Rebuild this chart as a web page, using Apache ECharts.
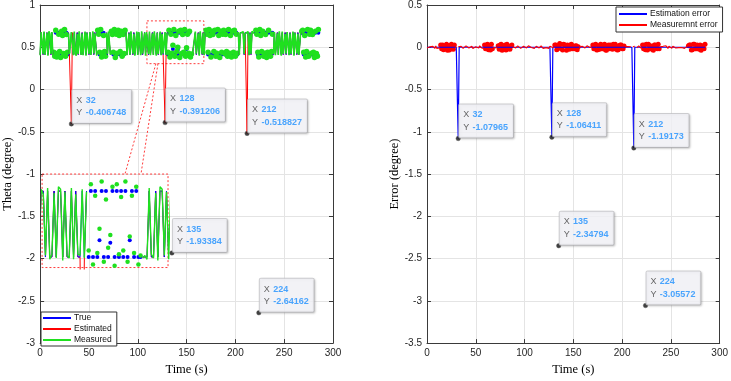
<!DOCTYPE html>
<html><head><meta charset="utf-8">
<script src="https://cdn.jsdelivr.net/npm/echarts@6/dist/echarts.min.js"></script>
<style>html,body{margin:0;padding:0;background:#fff}#c{width:731px;height:381px}</style>
</head><body><div id="c"></div>
<script>
// ---------------- data (sample index -> time in seconds) ----------------
const _ = null;          // no sample
const sampleStep = 1;    // seconds between samples
const xTicks = [0, 50, 100, 150, 200, 250, 300];

// continuous (line) parts of the signals
const trueVals = [
 .414,.673,.673,.414,.673,.414,.414,.673,.414,.673,
 .673,.414,.673,.414,_,_,_,_,_,_,
 _,_,_,_,_,_,_,_,_,.673,
 .414,.414,.673,.673,.414,.673,.414,.414,.673,.414,
 .673,.673,.414,.673,.414,.414,.673,.414,.673,.673,
 .414,.673,.414,.414,.673,.414,.673,.673,.414,_,
 _,_,_,_,_,_,_,_,.673,.414,
 .673,.673,.414,_,_,_,_,_,_,_,
 _,_,_,_,_,_,_,_,.673,.414,
 .414,.673,.414,.673,.673,.414,.673,.414,.414,.673,
 .414,.673,.673,.414,.673,.414,.414,.673,.414,.673,
 .673,.414,.673,.414,.414,.673,.414,.673,.673,.414,
 .673,.414,.414,.673,.414,.673,.414,.414,.673,.414,
 .673,_,_,_,_,_,_,_,_,_,
 _,_,_,_,_,_,_,_,_,_,
 _,_,_,_,_,_,.414,.414,.414,.673,
 .414,.414,.673,.414,.673,.673,.414,.673,.414,.673,
 _,_,_,_,_,_,_,_,_,_,
 _,_,_,_,_,_,_,_,_,_,
 _,_,_,_,_,_,_,_,_,_,
 _,_,_,.673,.414,.673,.673,.673,.673,.414,
 .673,.673,.673,.673,.414,.673,.414,.673,.673,.673,
 .673,_,_,_,_,_,_,_,_,_,
 _,_,_,_,_,_,_,_,_,.414,
 .673,.414,.414,.673,.414,.673,.673,.414,.673,.414,
 .414,.673,.414,.673,.673,.414,.673,.414,.414,.673,
 .414,.673,.673,.414,.673,.414,.414,.673,_,_,
 _,_,_,_,_,_,_,_,_,_,
 _,_,_,_,_,_
];

const estVals = [
 .414,.673,.673,.414,.673,.414,.414,.673,.414,.673,
 .673,.414,.673,.414,_,_,_,_,_,_,
 _,_,_,_,_,_,_,_,_,.673,
 .414,.414,-0.406748,.673,.414,.673,.414,.414,.673,.414,
 .673,.673,.414,.673,.414,.414,.673,.414,.673,.673,
 .414,.673,.414,.414,.673,.414,.673,.673,.414,_,
 _,_,_,_,_,_,_,_,.673,.414,
 .673,.673,.414,_,_,_,_,_,_,_,
 _,_,_,_,_,_,_,_,.673,.414,
 .414,.673,.414,.673,.673,.414,.673,.414,.414,.673,
 .414,.673,.673,.414,.673,.414,.414,.673,.414,.673,
 .673,.414,.673,.414,.414,.673,.414,.673,.673,.414,
 .673,.414,.414,.673,.414,.673,.414,.414,-0.391206,.414,
 .673,_,_,_,_,_,_,_,_,_,
 _,_,_,_,_,_,_,_,_,_,
 _,_,_,_,_,_,.414,.414,.414,.673,
 .414,.414,.673,.414,.673,.673,.414,.673,.414,.673,
 _,_,_,_,_,_,_,_,_,_,
 _,_,_,_,_,_,_,_,_,_,
 _,_,_,_,_,_,_,_,_,_,
 _,_,_,.673,.414,.673,.673,.673,.673,.414,
 .673,.673,-0.518827,.673,.414,.673,.414,.673,.673,.673,
 .673,_,_,_,_,_,_,_,_,_,
 _,_,_,_,_,_,_,_,_,.414,
 .673,.414,.414,.673,.414,.673,.673,.414,.673,.414,
 .414,.673,.414,.673,.673,.414,.673,.414,.414,.673,
 .414,.673,.673,.414,.673,.414,.414,.673,_,_,
 _,_,_,_,_,_,_,_,_,_,
 _,_,_,_,_,_
];

const measVals = [
 .405,.68,.665,.42,.685,.41,.425,.67,.40,.69,
 .66,.42,.68,.405,_,_,_,_,_,_,
 _,_,_,_,_,_,_,_,_,.665,
 .42,.41,.68,.67,.405,.685,.425,.40,.66,.42,
 .69,.68,.41,.665,.405,.425,.685,.40,.67,.66,
 .42,.68,.41,.405,.69,.425,.665,.68,.40,_,
 _,_,_,_,_,_,_,_,.67,.42,
 .685,.665,.41,_,_,_,_,_,_,_,
 _,_,_,_,_,_,_,_,.68,.405,
 .42,.665,.41,.69,.67,.425,.66,.40,.42,.685,
 .41,.68,.665,.405,.69,.425,.41,.67,.40,.68,
 .66,.42,.685,.405,.425,.665,.41,.69,.68,.40,
 .67,.42,.41,.685,.405,.66,.425,.42,.68,.41,
 .67,_,_,_,_,_,_,_,_,_,
 _,_,_,_,_,_,_,_,_,_,
 _,_,_,_,_,_,.41,.42,.405,.685,
 .425,.41,.665,.40,.69,.68,.42,.67,.405,.68,
 _,_,_,_,_,_,_,_,_,_,
 _,_,_,_,_,_,_,_,_,_,
 _,_,_,_,_,_,_,_,_,_,
 _,_,_,.68,.41,.665,.68,.67,.685,.42,
 .66,.68,.67,.685,.405,.665,.42,.69,.68,.665,
 .67,_,_,_,_,_,_,_,_,_,
 _,_,_,_,_,_,_,_,_,.42,
 .68,.405,.425,.665,.41,.69,.67,.40,.685,.42,
 .41,.66,.425,.68,.69,.405,.665,.42,.41,.685,
 .40,.67,.68,.425,.66,.41,.42,.69,_,_,
 _,_,_,_,_,_,_,_,_,_,
 _,_,_,_,_,_
];

// scattered (isolated) samples of the signals
const trueDots = [
 _,_,_,_,_,_,_,_,_,_,
 _,_,_,_,.414,.414,.673,.414,.414,.673,
 .414,.414,.673,.673,.414,.673,.414,.673,.414,_,
 _,_,_,_,_,_,_,_,_,_,
 _,_,_,_,_,_,_,_,_,_,
 _,_,_,_,_,_,_,_,_,.673,
 .673,.414,.673,.414,.414,.673,.414,.414,_,_,
 _,_,_,.673,.673,.414,.673,.414,.673,.414,
 .673,.673,.414,.673,.414,.673,.414,.673,_,_,
 _,_,_,_,_,_,_,_,_,_,
 _,_,_,_,_,_,_,_,_,_,
 _,_,_,_,_,_,_,_,_,_,
 _,_,_,_,_,_,_,_,_,_,
 _,.414,.673,.414,.673,.414,.48,.673,.414,.673,
 .414,.47,.673,.414,.673,.414,.673,.414,.673,.414,
 .48,.673,.414,.673,.414,.414,_,_,_,_,
 _,_,_,_,_,_,_,_,_,_,
 .673,.673,.414,.673,.673,.414,.673,.673,.414,.673,
 .414,.414,.673,.673,.414,.673,.414,.673,.673,.414,
 .673,.414,.414,.673,.414,.673,.414,.673,.414,.673,
 .414,.673,.414,_,_,_,_,_,_,_,
 _,_,_,_,_,_,_,_,_,_,
 _,.673,.673,.414,.414,.673,.673,.414,.673,.414,
 .414,.673,.414,.414,.673,.414,.414,.414,.673,_,
 _,_,_,_,_,_,_,_,_,_,
 _,_,_,_,_,_,_,_,_,_,
 _,_,_,_,_,_,_,_,.673,.673,
 .414,.673,.414,.414,.673,.414,.673,.673,.414,.673,
 .414,.414,.673,.414,.414,.673
];

const measDots = [
 _,_,_,_,_,_,_,_,_,_,
 _,_,_,_,.44,.395,.70,.385,.43,.655,
 .45,.38,.69,.64,.425,.71,.395,.65,.44,_,
 _,_,_,_,_,_,_,_,_,_,
 _,_,_,_,_,_,_,_,_,_,
 _,_,_,_,_,_,_,_,_,.70,
 .655,.44,.71,.385,.43,.64,.45,.395,_,_,
 _,_,_,.69,.65,.44,.71,.38,.655,.43,
 .70,.64,.45,.69,.395,.65,.425,.70,_,_,
 _,_,_,_,_,_,_,_,_,_,
 _,_,_,_,_,_,_,_,_,_,
 _,_,_,_,_,_,_,_,_,_,
 _,_,_,_,_,_,_,_,_,_,
 _,.44,.70,.385,.655,.43,.525,.71,.395,.64,
 .45,.50,.69,.38,.70,.425,.65,.44,.71,.395,
 .495,.655,.43,.69,.385,.42,_,_,_,_,
 _,_,_,_,_,_,_,_,_,_,
 .70,.655,.44,.71,.64,.385,.69,.65,.45,.70,
 .395,.43,.71,.64,.38,.69,.44,.655,.70,.425,
 .65,.45,.395,.71,.43,.64,.385,.69,.44,.70,
 .395,.655,.43,_,_,_,_,_,_,_,
 _,_,_,_,_,_,_,_,_,_,
 _,.70,.655,.44,.385,.71,.64,.45,.69,.395,
 .43,.65,.38,.44,.70,.425,.395,.45,.655,_,
 _,_,_,_,_,_,_,_,_,_,
 _,_,_,_,_,_,_,_,_,_,
 _,_,_,_,_,_,_,_,.69,.70,
 .44,.64,.385,.45,.71,.395,.655,.70,.43,.65,
 .44,.38,.69,.425,.395,.71
];

// error plot
const estErr = [
 0,0,0,0,0,0,0,0,0,0, 0,0,0,0,0,0,0,0,0,0, 0,0,0,0,0,0,0,0,0,0,
 0,0,-1.07965,0,0,0,0,0,0,0, 0,0,0,0,0,0,0,0,0,0, 0,0,0,0,0,0,0,0,0,0,
 0,0,0,0,0,0,0,0,0,0, 0,0,0,0,0,0,0,0,0,0, 0,0,0,0,0,0,0,0,0,0,
 0,0,0,0,0,0,0,0,0,0, 0,0,0,0,0,0,0,0,0,0, 0,0,0,0,0,0,0,0,0,0,
 0,0,0,0,0,0,0,0,-1.06411,0, 0,0,0,0,0,0,0,0,0,0, 0,0,0,0,0,0,0,0,0,0,
 0,0,0,0,0,0,0,0,0,0, 0,0,0,0,0,0,0,0,0,0, 0,0,0,0,0,0,0,0,0,0,
 0,0,0,0,0,0,0,0,0,0, 0,0,0,0,0,0,0,0,0,0, 0,0,0,0,0,0,0,0,0,0,
 0,0,-1.19173,0,0,0,0,0,0,0, 0,0,0,0,0,0,0,0,0,0, 0,0,0,0,0,0,0,0,0,0,
 0,0,0,0,0,0,0,0,0,0, 0,0,0,0,0,0,0,0,0,0, 0,0,0,0,0,0,0,0,0,0,
 0,0,0,0,0,0,0,0,0,0, 0,0,0,0,0,0
];

const measErr = [
 -.009,.007,-.008,.006,.012,-.004,.011,-.003,-.014,.017,
 -.013,.006,.007,-.009,_,_,_,_,_,_,
 _,_,_,_,_,_,_,_,_,-.008,
 .006,_,.007,-.003,-.009,.012,.011,-.014,-.013,.006,
 .017,.007,-.004,-.008,-.009,.011,.012,-.014,-.003,-.013,
 .006,.007,-.004,-.009,.017,.011,-.008,.007,-.014,_,
 _,_,_,_,_,_,_,_,-.003,.006,
 .012,-.008,-.004,_,_,_,_,_,_,_,
 _,_,_,_,_,_,_,_,.007,-.009,
 .006,-.008,-.004,.017,-.003,.011,-.013,-.014,.006,.012,
 -.004,.007,-.008,-.009,.017,.011,-.004,-.003,-.014,.007,
 -.013,.006,.012,-.009,.011,-.008,-.004,.017,.007,-.014,
 -.003,.006,-.004,.012,-.009,-.013,.011,.006,.007,-.004,
 -.003,_,_,_,_,_,_,_,_,_,
 _,_,_,_,_,_,_,_,_,_,
 _,_,_,_,_,_,-.004,.006,-.009,.012,
 .011,-.004,-.008,-.014,.017,.007,.006,-.003,-.009,.007,
 _,_,_,_,_,_,_,_,_,_,
 _,_,_,_,_,_,_,_,_,_,
 _,_,_,_,_,_,_,_,_,_,
 _,_,_,.007,-.004,-.008,.007,-.003,.012,.006,
 _,.007,-.003,.012,_,-.008,.006,.017,.007,-.008,
 -.003,_,_,_,_,_,_,_,_,_,
 _,_,_,_,_,_,_,_,_,.006,
 .007,-.009,.011,-.008,-.004,.017,-.003,-.014,.012,.006,
 -.004,-.013,.011,.007,.017,-.009,-.008,.006,-.004,.012,
 -.014,-.003,.007,.011,-.013,-.004,.006,.017,_,_,
 _,_,_,_,_,_,_,_,_,_,
 _,_,_,_,_,_
];

const errDots = [
 _,_,_,_,_,_,_,_,_,_,
 _,_,_,_,.026,-.019,.027,-.029,.016,-.018,
 .036,-.034,.017,-.033,.011,.037,-.019,-.023,.026,_,
 _,_,_,_,_,_,_,_,_,_,
 _,_,_,_,_,_,_,_,_,_,
 _,_,_,_,_,_,_,_,_,.027,
 -.018,.026,.037,-.029,.016,-.033,.036,-.019,_,_,
 _,_,_,.017,-.023,.026,.037,-.034,-.018,.016,
 .027,-.033,.036,.017,-.019,-.023,.011,.027,_,_,
 _,_,_,_,_,_,_,_,_,_,
 _,_,_,_,_,_,_,_,_,_,
 _,_,_,_,_,_,_,_,_,_,
 _,_,_,_,_,_,_,_,_,_,
 _,.026,.027,-.029,-.018,.016,.045,.037,-.019,-.033,
 .036,.03,.017,-.034,.027,.011,-.023,.026,.037,-.019,
 .015,-.018,.016,.017,-.029,.006,_,_,_,_,
 _,_,_,_,_,_,_,_,_,_,
 .027,-.018,.026,.037,-.033,-.029,.017,-.023,.036,.027,
 -.019,.016,.037,-.033,-.034,.017,.026,-.018,.027,.011,
 -.023,.036,-.019,.037,.016,-.033,-.029,.017,.026,.027,
 -.019,-.018,.016,_,_,_,_,_,_,_,
 _,_,_,_,_,_,_,_,_,_,
 _,.027,-.018,.026,-.029,.037,-.033,.036,.017,-.019,
 .016,-.023,-.034,.026,.027,.011,-.019,.036,-.018,_,
 _,_,_,_,_,_,_,_,_,_,
 _,_,_,_,_,_,_,_,_,_,
 _,_,_,_,_,_,_,_,.017,.027,
 .026,-.033,-.029,.036,.037,-.019,-.018,.027,.016,-.023,
 .026,-.034,.017,.011,-.019,.037
];

// data tips (time, value on theta plot, value on error plot)
const tipTimes = [32, 128, 212, 135, 224];
const tipTheta = [-0.406748, -0.391206, -0.518827, -1.93384, -2.64162];
const tipError = [-1.07965, -1.06411, -1.19173, -2.34794, -3.05572];

// zoom annotation (data coordinates of the left plot)
const zoomBoxX = [109.4, 167.7];
const zoomBoxY = [0.306, 0.812];
const insetBoxX = [2, 131];
const insetBoxY = [-1.0, -2.106];
const insetYRange = [0.367, 0.736];
const connectorFrom = [[118.6, 0.306], [120.7, 0.306]];
const connectorTo = [[86.9, -1.0], [103.3, -1.0]];

const legendLeft = ['True', 'Estimated', 'Measured'];
const legendRight = ['Estimation error', 'Measuremnt error'];

// ---------------- chart ----------------
const sans = 'Arial, "Liberation Sans", Helvetica, sans-serif';
const serif = '"Times New Roman", "Liberation Serif", serif';
const axCol = '#3a3a3a';
const gridCol = '#e4e4e4';
const BLUE = '#0000ff', RED = '#ff0000', GREEN = '#1fe01f';

const pairs = arr => arr.map((v, i) => [i * sampleStep, v]);
const present = arr => pairs(arr).filter(p => p[1] != null);

function mkX(gridIndex, top, name) {
  return {
    type: 'value', gridIndex, position: top ? 'top' : 'bottom',
    min: xTicks[0], max: xTicks[xTicks.length - 1], interval: xTicks[1] - xTicks[0],
    axisLine: { show: true, onZero: false, lineStyle: { color: axCol, width: 1 } },
    axisTick: { show: true, inside: true, length: 4, lineStyle: { color: axCol } },
    axisLabel: { show: !top, color: '#262626', fontSize: 10, margin: 5, fontFamily: sans },
    splitLine: { show: !top, lineStyle: { color: gridCol, width: 1 } },
    name: name || '', nameLocation: 'middle', nameGap: 19,
    nameTextStyle: { fontFamily: serif, fontSize: 12.5, color: '#000' }
  };
}
function mkY(gridIndex, right, min, max, name) {
  return {
    type: 'value', gridIndex, position: right ? 'right' : 'left',
    min, max, interval: 0.5,
    axisLine: { show: true, onZero: false, lineStyle: { color: axCol, width: 1 } },
    axisTick: { show: true, inside: true, length: 4, lineStyle: { color: axCol } },
    axisLabel: { show: !right, color: '#262626', fontSize: 10, margin: 5, fontFamily: sans },
    splitLine: { show: !right, lineStyle: { color: gridCol, width: 1 } },
    name: name || '', nameLocation: 'middle', nameGap: 24,
    nameTextStyle: { fontFamily: serif, fontSize: 12.5, color: '#000' }
  };
}
function lineSeries(name, arr, xi, yi, color, width, extra) {
  return Object.assign({
    type: 'line', name, data: pairs(arr), xAxisIndex: xi, yAxisIndex: yi,
    showSymbol: false, symbol: 'none',
    lineStyle: { color, width }, itemStyle: { color },
    connectNulls: false, clip: true, silent: true, animation: false,
    emphasis: { disabled: true }
  }, extra || {});
}
function dotSeries(name, arr, xi, yi, color, size) {
  return {
    type: 'scatter', name, data: present(arr), xAxisIndex: xi, yAxisIndex: yi,
    symbol: 'circle', symbolSize: size, itemStyle: { color, opacity: 1 },
    clip: true, silent: true, animation: false, emphasis: { disabled: true }
  };
}
function tipSeries(name, xs, ys, xi, yi) {
  return {
    type: 'scatter', name, xAxisIndex: xi, yAxisIndex: yi, z: 5,
    data: xs.map((x, i) => [x, ys[i]]),
    symbol: 'circle', symbolSize: 4.5, silent: true, animation: false,
    itemStyle: { color: '#111', borderColor: '#555', borderWidth: 0.5 },
    label: {
      show: true, position: [3.5, 1.5], align: 'left', verticalAlign: 'bottom',
      formatter: p => `{k|X} {v|${p.value[0]}}\n{k|Y} {v|${p.value[1]}}`,
      backgroundColor: '#f8f8fd', borderColor: '#c4c4c8', borderWidth: 1,
      padding: [4, 5, 4, 4], borderRadius: 1,
      shadowColor: 'rgba(0,0,0,0.18)', shadowBlur: 2, shadowOffsetX: 1, shadowOffsetY: 1,
      rich: {
        k: { color: '#404040', fontSize: 9, fontFamily: sans, lineHeight: 12.5 },
        v: { color: '#1e90ff', fontSize: 9, fontWeight: 'bold', fontFamily: sans, lineHeight: 12.5 }
      }
    }
  };
}

const chart = echarts.init(document.getElementById('c'), null, { renderer: 'canvas' });
const option = {
  animation: false,
  backgroundColor: '#ffffff',
  textStyle: { fontFamily: sans },
  grid: [
    { left: 40, top: 5, width: 293, height: 340, show: false },
    { left: 427, top: 5, width: 295, height: 341, show: false },
    { left: 42, top: 175, width: 126, height: 94, show: false }
  ],
  xAxis: [
    mkX(0, false, 'Time (s)'), mkX(0, true),
    mkX(1, false, 'Time (s)'), mkX(1, true),
    { type: 'value', gridIndex: 2, min: zoomBoxX[0], max: zoomBoxX[1], show: false }
  ],
  yAxis: [
    mkY(0, false, -3, 1, 'Theta (degree)'), mkY(0, true, -3, 1),
    mkY(1, false, -3.5, 0.5, 'Error (degree)'), mkY(1, true, -3.5, 0.5),
    { type: 'value', gridIndex: 2, min: insetYRange[0], max: insetYRange[1], show: false }
  ],
  legend: [
    {
      data: legendLeft, left: 41, top: 312, orient: 'vertical', icon: 'rect',
      itemWidth: 28, itemHeight: 2, itemGap: 1, selectedMode: false,
      padding: [1, 5, 1, 2], borderColor: '#333', borderWidth: 1, backgroundColor: '#fff',
      textStyle: { fontSize: 8.5, color: '#111', lineHeight: 10, fontFamily: sans, padding: [0, 0, 0, -2] }
    },
    {
      data: legendRight, left: 616, top: 7, orient: 'vertical', icon: 'rect',
      itemWidth: 28, itemHeight: 2, itemGap: 1, selectedMode: false,
      padding: [2, 5, 2, 3], borderColor: '#333', borderWidth: 1, backgroundColor: '#fff',
      textStyle: { fontSize: 8.5, color: '#111', lineHeight: 10, fontFamily: sans, padding: [0, 0, 0, -2] }
    }
  ],
  series: [
    lineSeries('Estimated', estVals, 0, 0, RED, 1, {
      markArea: {
        silent: true, label: { show: false },
        itemStyle: { color: 'rgba(0,0,0,0)', borderColor: '#ff3b3b', borderWidth: 1, borderType: [2, 2] },
        data: [
          [{ coord: [zoomBoxX[0], zoomBoxY[1]] }, { coord: [zoomBoxX[1], zoomBoxY[0]] }],
          [{ coord: [insetBoxX[0], insetBoxY[0]] }, { coord: [insetBoxX[1], insetBoxY[1]] }]
        ]
      },
      markLine: {
        silent: true, symbol: ['none', 'none'], label: { show: false },
        lineStyle: { color: '#ff3b3b', width: 1, type: [2, 2] },
        data: connectorFrom.map((f, i) => [{ coord: f }, { coord: connectorTo[i] }])
      }
    }),
    lineSeries('True', trueVals, 0, 0, BLUE, 1),
    lineSeries('Measured', measVals, 0, 0, GREEN, 1.6),
    dotSeries('True samples', trueDots, 0, 0, BLUE, 4),
    dotSeries('Measured samples', measDots, 0, 0, GREEN, 5.5),
    // inset (magnified view)
    lineSeries('Estimated (zoom)', estVals, 4, 4, RED, 1),
    lineSeries('True (zoom)', trueVals, 4, 4, BLUE, 1),
    lineSeries('Measured (zoom)', measVals, 4, 4, GREEN, 1.4),
    dotSeries('True samples (zoom)', trueDots, 4, 4, BLUE, 4),
    dotSeries('Measured samples (zoom)', measDots, 4, 4, GREEN, 4.5),
    tipSeries('tipsTheta', tipTimes, tipTheta, 0, 0),
    // error plot
    lineSeries('Estimation error', estErr, 2, 2, BLUE, 1.2),
    lineSeries('Measuremnt error', measErr, 2, 2, RED, 1.1),
    dotSeries('Measurement error samples', errDots, 2, 2, RED, 5),
    tipSeries('tipsError', tipTimes, tipError, 2, 2)
  ]
};
chart.setOption(option);
</script>
</body></html>
